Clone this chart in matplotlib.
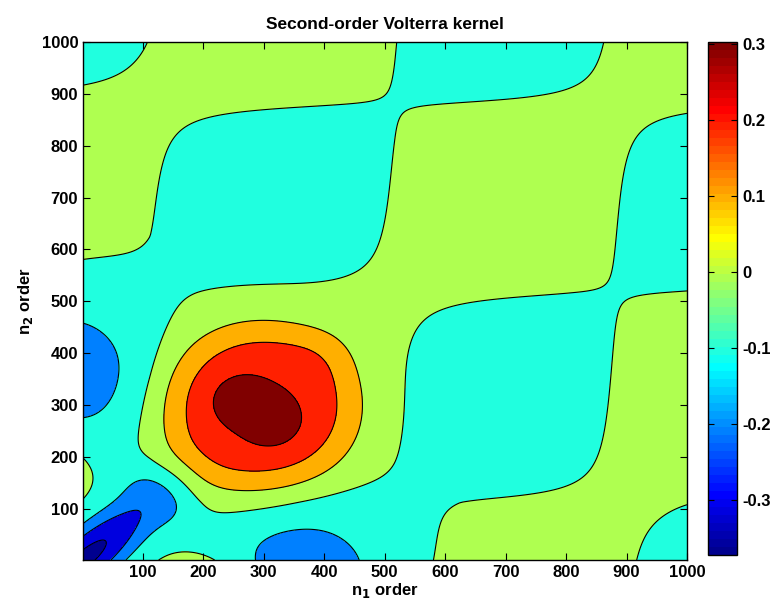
import numpy as np
import matplotlib
matplotlib.use('Agg')
import matplotlib.pyplot as plt
from matplotlib.colors import Normalize, ListedColormap

plt.rcParams['font.family'] = ['Liberation Sans', 'DejaVu Sans']
plt.rcParams['font.weight'] = 'bold'

# kernel support
n_min, n_max = 1, 1000

# background ripple: positions where it changes sign (same on both axes)
ripple_zeros = [112, 516, 880]
ripple_lead = 800      # distance to the sign change before the first one
ripple_amp = 0.05      # checkerboard part
ripple_twist = 0.005   # diagonal (sin*sin) part
ripple_offset = 0.004

# main lobe of the kernel (flat-topped)
peak_center = [292, 292]
peak_height = 0.236
peak_radius = 166
peak_power = 3.85

# smaller bumps; mirrored ones are also added at (n2, n1)
bump_amp = [0.069, 0.069, 0.03, 0.03, -0.15, 0.10, 0.07, -0.345, -0.05, -0.008]
bump_n1 = [256, 314, 190, 405, 365, 215, -40, 0, 150, 60]
bump_n2 = [309, 263, 190, 405, -20, -40, 190, 0, 95, 1040]
bump_w1 = [50, 50, 60, 60, 135, 70, 52, 170, 45, 110]
bump_w2 = [50, 50, 60, 60, 120, 52, 70, 49, 45, 110]
bump_angle = [0, 0, 0, 0, 0, 0, 0, 45, 0, 0]
bump_mirror = [False, False, False, False, True, False, False, False, True, True]

# contour levels, fill colours (one per band) and colour scaling
levels = [-0.3, -0.2, -0.1, 0.0, 0.1, 0.2, 0.3]
band_colors = ['#00008F', '#0000DF', '#0080FF', '#20FFDF',
               '#AFFF50', '#FFAF00', '#FF2000', '#800000']
c_lo, c_hi = -0.372, 0.303
cbar_ticks = [-0.3, -0.2, -0.1, 0, 0.1, 0.2, 0.3]
cbar_labels = ['-0.3', '-0.2', '-0.1', '0', '0.1', '0.2', '0.3']


def matlab_jet(m=64):
    n = int(np.ceil(m / 4))
    u = np.concatenate([np.arange(1, n + 1) / n, np.ones(n - 1), np.arange(n, 0, -1) / n])
    g = int(np.ceil(n / 2)) - (m % 4 == 1) + np.arange(1, len(u) + 1)
    r, b = g + n, g - n
    J = np.zeros((m, 3))
    J[r[r <= m] - 1, 0] = u[r <= m]
    J[g[g <= m] - 1, 1] = u[g <= m]
    J[b[b >= 1] - 1, 2] = u[b >= 1]
    return ListedColormap(J)


def ripple_phase(n):
    z = ripple_zeros
    xp = [z[0] - ripple_lead, z[0], z[1], z[2], z[2] + (z[2] - z[1])]
    fp = [-np.pi / 2, np.pi / 2, 3 * np.pi / 2, 5 * np.pi / 2, 7 * np.pi / 2]
    return np.interp(n, xp, fp)


def bump(X, Y, amp, c1, c2, w1, w2, ang, power=2.0):
    a = np.deg2rad(ang)
    u = (X - c1) * np.cos(a) + (Y - c2) * np.sin(a)
    v = -(X - c1) * np.sin(a) + (Y - c2) * np.cos(a)
    q = (u / w1) ** 2 + (v / w2) ** 2
    return amp * np.exp(-q ** (power / 2))


n = np.linspace(n_min, n_max, 600)
N1, N2 = np.meshgrid(n, n)

t1 = ripple_phase(N1)
t2 = ripple_phase(N2)
H = (ripple_offset + ripple_amp * np.cos(t1) * np.cos(t2)
     + ripple_twist * np.sin(t1) * np.sin(t2))

H += bump(N1, N2, peak_height, peak_center[0], peak_center[1],
          peak_radius, peak_radius, 0, peak_power)
for i in range(len(bump_amp)):
    H += bump(N1, N2, bump_amp[i], bump_n1[i], bump_n2[i],
              bump_w1[i], bump_w2[i], bump_angle[i])
    if bump_mirror[i]:
        H += bump(N2, N1, bump_amp[i], bump_n1[i], bump_n2[i],
                  bump_w1[i], bump_w2[i], bump_angle[i])

cmap = matlab_jet(64)
norm = Normalize(c_lo, c_hi)

fig = plt.figure(figsize=(7.73, 6.06), dpi=100)
ax = fig.add_axes([0.1074, 0.0759, 0.7813, 0.8548])
ax.contourf(N1, N2, H, levels=[-10] + levels + [10], colors=band_colors)
ax.contour(N1, N2, H, levels=levels, colors='k', linewidths=0.8,
           linestyles='solid')

ax.set_xlim(n_min, n_max)
ax.set_ylim(n_min, n_max)
ax.set_xticks(range(100, 1001, 100))
ax.set_yticks(range(100, 1001, 100))
ax.tick_params(direction='in', top=True, right=True, length=5, width=0.8,
               labelsize=12)
for s in ax.spines.values():
    s.set_linewidth(1.0)

ax.set_title('Second-order Volterra kernel', fontsize=12.5, fontweight='bold', pad=9)
ax.set_xlabel('n$_\\mathbf{1}$ order', fontsize=12, fontweight='bold', labelpad=1)
ax.set_ylabel('n$_\\mathbf{2}$ order', fontsize=12, fontweight='bold', labelpad=5)

cax = fig.add_axes([0.916, 0.0842, 0.038, 0.8465])
sm = plt.cm.ScalarMappable(norm=norm, cmap=cmap)
cb = fig.colorbar(sm, cax=cax, ticks=cbar_ticks)
cb.ax.set_yticklabels(cbar_labels)
cb.ax.tick_params(direction='in', left=True, right=True, length=4, labelsize=12)
cb.outline.set_linewidth(1.0)

fig.savefig('out.png', dpi=100)
